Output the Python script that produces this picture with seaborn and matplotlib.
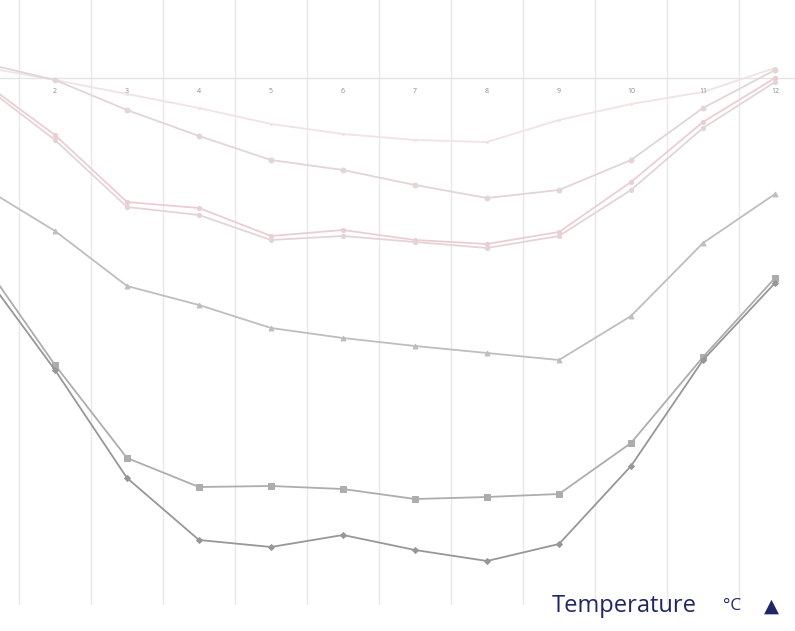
import numpy as np
import pandas as pd
import matplotlib
matplotlib.use("Agg")
import matplotlib.pyplot as plt
import seaborn as sns

sns.set_style("white")
plt.rcParams['font.family'] = ['Open Sans', 'DejaVu Sans']

# months and monthly mean temperatures (one series per line)
months = list(range(1, 13))
month_labels = [str(m) for m in months]

line_a = [0.55, -0.1, -0.8, -1.5, -2.3, -2.8, -3.1, -3.2, -2.1, -1.3, -0.7, 0.5]
line_b = [0.75, -0.1, -1.6, -2.9, -4.1, -4.6, -5.35, -6.0, -5.6, -4.1, -1.5, 0.4]
line_c = [-0.2, -2.85, -6.2, -6.5, -7.9, -7.6, -8.1, -8.3, -7.7, -5.2, -2.2, 0.0]
line_d = [-0.35, -3.1, -6.45, -6.85, -8.1, -7.9, -8.2, -8.5, -7.9, -5.6, -2.5, -0.2]
line_e = [-5.45, -7.65, -10.4, -11.35, -12.5, -13.0, -13.4, -13.75, -14.1, -11.9, -8.25, -5.8]
line_f = [-9.2, -14.35, -19.0, -20.45, -20.4, -20.55, -21.05, -20.95, -20.8, -18.25, -13.95, -10.0]
line_g = [-9.7, -14.6, -20.0, -23.1, -23.45, -22.85, -23.6, -24.15, -23.3, -19.4, -14.1, -10.25]

series = [
    (line_a, "#f0e3e3", "o", 1.5),
    (line_b, "#e2d5d5", "o", 3.5),
    (line_c, "#ecced2", "o", 3),
    (line_d, "#e4d4d7", "o", 3),
    (line_e, "#bebebe", "^", 3.5),
    (line_f, "#adadad", "s", 4.5),
    (line_g, "#979797", "D", 3),
]

fig = plt.figure(figsize=(7.95, 6.31), dpi=100)
# the chart is cropped: axes run past the figure edge on the left and right
ax = fig.add_axes([-53 / 795, 26 / 631, 864 / 795, 605 / 631])

for vals, col, mk, ms in series:
    sns.lineplot(x=months, y=vals, ax=ax, color=col, marker=mk, markersize=ms,
                 markeredgecolor=col, linewidth=1.3, zorder=3)

ax.set_xlim(0.5, 12.5)
ax.set_ylim(-26.35, 3.9)

# gridlines between categories
ax.set_xticks(np.arange(0.5, 13, 1), minor=True)
ax.set_xticks([])
ax.set_yticks([])
ax.grid(which='minor', axis='x', color='#e8e8e8', linewidth=1.0)
ax.axhline(0, color='#e4e4e4', linewidth=1.0, zorder=1)

# category labels under the zero line (month 1 falls outside the crop)
for m, lab in zip(months[1:], month_labels[1:]):
    ax.annotate(lab, (m, 0), xytext=(0, -9.5), textcoords='offset points',
                ha='center', va='center', fontsize=5, color='#8a8a8a')

for s in ax.spines.values():
    s.set_visible(False)

navy = '#1f2668'
fig.text(552 / 795, 0.040, "Temperature", ha='left', va='center',
         fontsize=17, color=navy)
fig.text(732 / 795, 0.040, "°C", ha='center', va='center',
         fontsize=12.5, color=navy)
fig.text(771 / 795, 0.040, "▲", ha='center', va='center',
         fontsize=14, color=navy, family=['DejaVu Sans'])

fig.savefig("out.png", dpi=100)
